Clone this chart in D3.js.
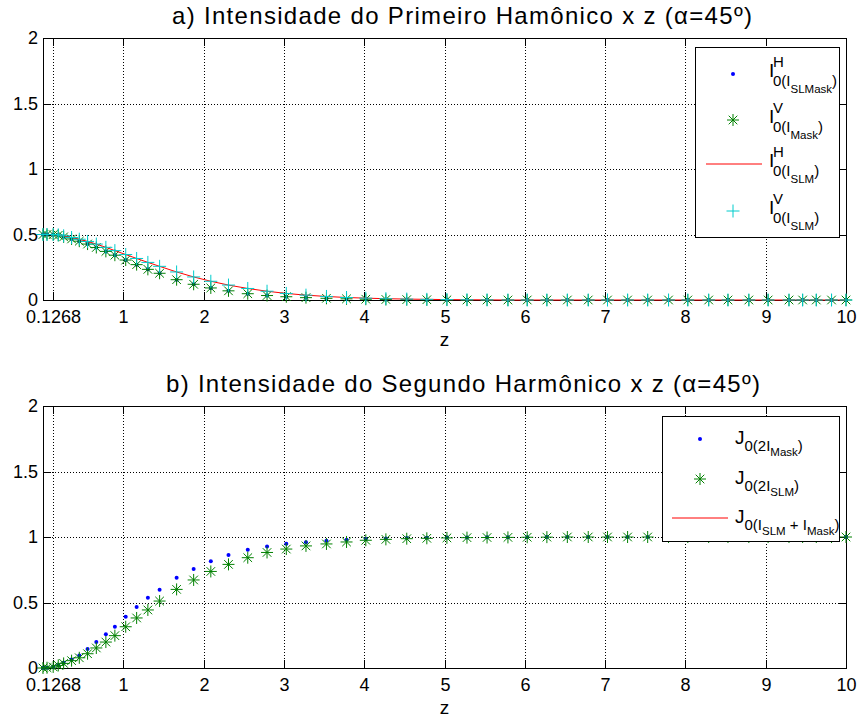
<!DOCTYPE html>
<html>
<head>
<meta charset="utf-8">
<script src="https://cdn.jsdelivr.net/npm/d3@7"></script>
<style>
  body { margin: 0; background: #fff; }
  svg { font-family: "Liberation Sans", Arial, sans-serif; }
</style>
</head>
<body>
<svg width="858" height="724"></svg>
<script>
// z positions of the samples (shared by every series)
const zValues = [0, 0.05, 0.1268, 0.19, 0.257, 0.356, 0.452, 0.555, 0.664, 0.783, 0.895, 1.03, 1.166, 1.306,
  1.452, 1.664, 1.876, 2.09, 2.31, 2.55, 2.79, 3.03, 3.275, 3.53, 3.78, 4.02, 4.27, 4.53, 4.78, 5.03, 5.28,
  5.53, 5.79, 6.03, 6.275, 6.53, 6.79, 7.03, 7.28, 7.53, 7.79, 8.03, 8.29, 8.53, 8.79, 9.03, 9.29, 9.46,
  9.63, 9.82, 10];

// a) first harmonic
const iHSLMask = [0.5, 0.5, 0.499, 0.494, 0.482, 0.466, 0.449, 0.427, 0.401, 0.371, 0.342, 0.305, 0.27, 0.234,
  0.204, 0.155, 0.12, 0.092, 0.07, 0.048, 0.034, 0.025, 0.018, 0.013, 0.009, 0.006, 0.004, 0.003, 0.002, 0.001, 0,
  0, 0, 0, 0, 0, 0, 0, 0, 0, 0, 0, 0, 0, 0, 0, 0, 0, 0, 0, 0];
const iVMask = [0.5, 0.5, 0.499, 0.494, 0.482, 0.466, 0.449, 0.427, 0.401, 0.371, 0.342, 0.305, 0.27, 0.234,
  0.204, 0.155, 0.12, 0.092, 0.07, 0.048, 0.034, 0.025, 0.018, 0.013, 0.009, 0.006, 0.004, 0.003, 0.002, 0.001, 0,
  0, 0, 0, 0, 0, 0, 0, 0, 0, 0, 0, 0, 0, 0, 0, 0, 0, 0, 0, 0];
const iHSLM = [0.5, 0.5, 0.5, 0.497, 0.49, 0.477, 0.464, 0.447, 0.427, 0.402, 0.377, 0.347, 0.317, 0.287,
  0.257, 0.214, 0.176, 0.143, 0.114, 0.088, 0.067, 0.05, 0.037, 0.027, 0.019, 0.014, 0.01, 0.007, 0.005, 0.003,
  0.002, 0.001, 0, 0, 0, 0, 0, 0, 0, 0, 0, 0, 0, 0, 0, 0, 0, 0, 0, 0, 0];
const iVSLM = [0.5, 0.5, 0.5, 0.497, 0.49, 0.477, 0.464, 0.447, 0.427, 0.402, 0.377, 0.347, 0.317, 0.287,
  0.257, 0.214, 0.176, 0.143, 0.114, 0.088, 0.067, 0.05, 0.037, 0.027, 0.019, 0.014, 0.01, 0.007, 0.005, 0.003,
  0.002, 0.001, 0, 0, 0, 0, 0, 0, 0, 0, 0, 0, 0, 0, 0, 0, 0, 0, 0, 0, 0];

// b) second harmonic
const j2Mask = [0, 0.002, 0.01, 0.022, 0.04, 0.065, 0.096, 0.145, 0.198, 0.257, 0.315, 0.392, 0.466, 0.537,
  0.598, 0.689, 0.756, 0.814, 0.862, 0.903, 0.928, 0.949, 0.959, 0.971, 0.979, 0.985, 0.989, 0.992, 0.994, 0.996,
  0.997, 0.998, 0.998, 0.999, 1, 1, 1, 1, 1, 1, 1, 1, 1, 1, 1, 1, 1, 1, 1, 1, 1];
const j2SLM = [0, 0.002, 0.008, 0.02, 0.035, 0.056, 0.078, 0.109, 0.153, 0.198, 0.247, 0.315, 0.382, 0.443,
  0.511, 0.6, 0.672, 0.737, 0.791, 0.842, 0.882, 0.908, 0.932, 0.947, 0.962, 0.975, 0.982, 0.987, 0.99, 0.993,
  0.995, 0.996, 0.997, 0.998, 0.999, 1, 1, 1, 1, 1, 1, 1, 1, 1, 1, 1, 1, 1, 1, 1, 1];

const xTicks = [0.1268, 1, 2, 3, 4, 5, 6, 7, 8, 9, 10];
const yTicks = [0, 0.5, 1, 1.5, 2];

const titleA = "a) Intensidade do Primeiro Hamônico x z (α=45º)";
const titleB = "b) Intensidade do Segundo Harmônico x z (α=45º)";

const BLUE = "#0000ff", GREEN = "#008000", RED = "#ff0000", CYAN = "#00cccc";
const starPath = "M-6,0H6M0,-6V6M-4.3,-4.3L4.3,4.3M-4.3,4.3L4.3,-4.3";
const plusPath = "M-6.5,0H6.5M0,-6.5V6.5";

const svg = d3.select("svg");
const left = 43, right = 846;
const x = d3.scaleLinear().domain([0, 10]).range([left, right]);
const xr = x.copy().interpolate(d3.interpolateRound);

// tex-like label: parts = [text, level, reset x]; level 0 main, 1 sup, -1 sub, -2 subsub
function texLabel(g, x0, by, parts, off) {
  const sizes = { "0": 19, "1": 15, "-1": 15, "-2": 11.5 };
  const t = g.append("text").attr("x", x0).attr("y", by).attr("fill", "#000");
  parts.forEach(([s, lvl, reset]) => {
    const ts = t.append("tspan").attr("font-size", sizes[lvl]).attr("y", by + off[lvl]).text(s);
    if (reset !== undefined) ts.attr("x", x0 + reset);
  });
}

function drawPanel(p) {
  const y = d3.scaleLinear().domain([0, 2]).range([p.bottom, p.top]);
  const yr = y.copy().interpolate(d3.interpolateRound);
  const h = p.bottom - p.top;
  const g = svg.append("g");

  // grid
  g.append("g").attr("transform", `translate(0,${p.bottom})`)
    .call(d3.axisBottom(xr).tickValues(xTicks).tickSize(-h).tickFormat(""))
    .call(s => { s.select(".domain").remove();
      s.selectAll("line").attr("stroke", "#000").attr("stroke-dasharray", "1,2"); });
  g.append("g").attr("transform", `translate(${left},0)`)
    .call(d3.axisLeft(yr).tickValues(yTicks).tickSize(-(right - left)).tickFormat(""))
    .call(s => { s.select(".domain").remove();
      s.selectAll("line").attr("stroke", "#000").attr("stroke-dasharray", "1,2"); });

  // axes with inward ticks
  const styleAxis = s => {
    s.select(".domain").remove();
    s.selectAll("line").attr("stroke", "#000");
    s.selectAll("text").attr("font-size", 18).attr("font-family", "Liberation Sans, Arial, sans-serif").attr("fill", "#000");
  };
  g.append("g").attr("transform", `translate(0,${p.bottom})`)
    .call(d3.axisBottom(xr).tickValues(xTicks).tickSizeInner(-8).tickSizeOuter(0).tickPadding(10)
      .tickFormat(d => d === 0.1268 ? "0.1268" : d3.format("d")(d)))
    .call(styleAxis);
  g.append("g").attr("transform", `translate(0,${p.top})`)
    .call(d3.axisTop(xr).tickValues(xTicks).tickSizeInner(-8).tickSizeOuter(0).tickFormat(""))
    .call(styleAxis);
  g.append("g").attr("transform", `translate(${left},0)`)
    .call(d3.axisLeft(yr).tickValues(yTicks).tickSizeInner(-8).tickSizeOuter(0).tickPadding(5)
      .tickFormat(d3.format("")))
    .call(styleAxis);
  g.append("g").attr("transform", `translate(${right},0)`)
    .call(d3.axisRight(yr).tickValues(yTicks).tickSizeInner(-8).tickSizeOuter(0).tickFormat(""))
    .call(styleAxis);

  g.append("rect").attr("x", left + 0.5).attr("y", p.top + 0.5)
    .attr("width", right - left).attr("height", h)
    .attr("fill", "none").attr("stroke", "#000");

  // data
  const pts = arr => zValues.map((z, i) => [z, arr[i]]);
  p.series.forEach(s => {
    const data = pts(s.values);
    if (s.type === "dot") {
      g.append("g").selectAll("circle").data(data).join("circle")
        .attr("cx", d => x(d[0])).attr("cy", d => y(d[1])).attr("r", 2).attr("fill", BLUE);
    } else if (s.type === "star" || s.type === "plus") {
      g.append("g").selectAll("path").data(data).join("path")
        .attr("transform", d => `translate(${x(d[0])},${y(d[1])})`)
        .attr("d", s.type === "star" ? starPath : plusPath)
        .attr("stroke", s.type === "star" ? GREEN : CYAN).attr("fill", "none");
    } else if (s.type === "line") {
      g.append("path").datum(data)
        .attr("d", d3.line().x(d => x(d[0])).y(d => y(d[1])))
        .attr("fill", "none").attr("stroke", RED);
    }
  });

  // labels
  svg.append("text").attr("x", p.titleX).attr("y", p.titleY).attr("font-size", 24)
    .attr("textLength", p.titleW).attr("lengthAdjust", "spacing")
    .attr("fill", "#000").text(p.title);
  svg.append("text").attr("x", (left + right) / 2).attr("y", p.bottom + 46)
    .attr("text-anchor", "middle").attr("font-size", 19).text("z");

  // legend
  const L = p.legend;
  const lg = svg.append("g");
  lg.append("rect").attr("x", L.x + 0.5).attr("y", L.y + 0.5).attr("width", L.w).attr("height", L.h)
    .attr("fill", "#fff").attr("stroke", "#000");
  L.items.forEach(it => {
    if (it.type === "dot") {
      lg.append("circle").attr("cx", L.mx).attr("cy", it.cy).attr("r", 2).attr("fill", BLUE);
    } else if (it.type === "line") {
      lg.append("line").attr("x1", L.lx1).attr("x2", L.lx2).attr("y1", it.cy).attr("y2", it.cy).attr("stroke", RED);
    } else {
      lg.append("path").attr("transform", `translate(${L.mx},${it.cy})`)
        .attr("d", it.type === "star" ? starPath : plusPath)
        .attr("stroke", it.type === "star" ? GREEN : CYAN).attr("fill", "none");
    }
    texLabel(lg, L.tx, it.cy + L.base, it.parts, L.off);
  });
}

drawPanel({
  top: 38, bottom: 300, title: titleA, titleX: 172, titleY: 24, titleW: 580,
  series: [
    { type: "dot", values: iHSLMask },
    { type: "star", values: iVMask },
    { type: "line", values: iHSLM },
    { type: "plus", values: iVSLM }
  ],
  legend: {
    x: 695, y: 47, w: 144, h: 190, mx: 733, lx1: 706, lx2: 762, tx: 769, base: 3,
    off: { "0": 0, "1": -10, "-1": 8.5, "-2": 16 },
    items: [
      { type: "dot", cy: 74, parts: [["I", 0], ["H", 1, 4], ["0(I", -1, 4], ["SLMask", -2], [")", -1]] },
      { type: "star", cy: 120, parts: [["I", 0], ["V", 1, 4], ["0(I", -1, 4], ["Mask", -2], [")", -1]] },
      { type: "line", cy: 164, parts: [["I", 0], ["H", 1, 4], ["0(I", -1, 4], ["SLM", -2], [")", -1]] },
      { type: "plus", cy: 211, parts: [["I", 0], ["V", 1, 4], ["0(I", -1, 4], ["SLM", -2], [")", -1]] }
    ]
  }
});

drawPanel({
  top: 406, bottom: 668, title: titleB, titleX: 166, titleY: 392, titleW: 594,
  series: [
    { type: "dot", values: j2Mask },
    { type: "star", values: j2SLM }
  ],
  legend: {
    x: 662, y: 416, w: 177, h: 125, mx: 700, lx1: 672, lx2: 728, tx: 735, base: 5,
    off: { "0": 0, "1": -10, "-1": 6.5, "-2": 11.5 },
    items: [
      { type: "dot", cy: 439, parts: [["J", 0], ["0(2I", -1], ["Mask", -2], [")", -1]] },
      { type: "star", cy: 479, parts: [["J", 0], ["0(2I", -1], ["SLM", -2], [")", -1]] },
      { type: "line", cy: 518, parts: [["J", 0], ["0(I", -1], ["SLM", -2], [" + I", -1], ["Mask", -2], [")", -1]] }
    ]
  }
});
</script>
</body>
</html>
